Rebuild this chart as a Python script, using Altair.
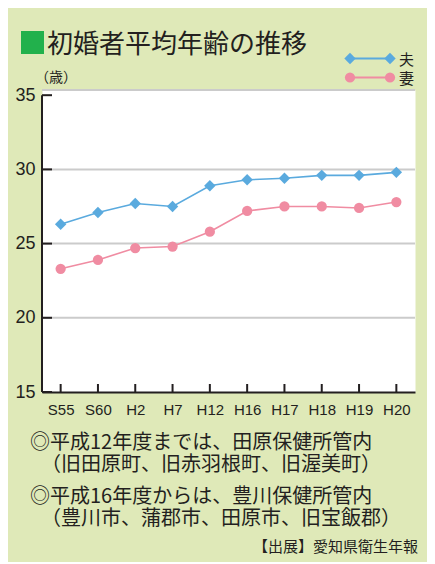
import altair as alt
import pandas as pd

# ---- data ----
years = ["S55", "S60", "H2", "H7", "H12", "H16", "H17", "H18", "H19", "H20"]
husband = [26.3, 27.1, 27.7, 27.5, 28.9, 29.3, 29.4, 29.6, 29.6, 29.8]
wife = [23.3, 23.9, 24.7, 24.8, 25.8, 27.2, 27.5, 27.5, 27.4, 27.8]
series_names = ["夫", "妻"]
y_ticks = [15, 20, 25, 30, 35]
grid_values = [20, 25, 30]
title_text = "初婚者平均年齢の推移"
unit_text = "（歳）"
notes = [
    "◎平成12年度までは、田原保健所管内",
    "（旧田原町、旧赤羽根町、旧渥美町）",
    "◎平成16年度からは、豊川保健所管内",
    "（豊川市、蒲郡市、田原市、旧宝飯郡）",
]
source_text = "【出展】愛知県衛生年報"

# ---- styling ----
W, H = 373, 302
BLUE = "#5aaade"
PINK = "#f08ca2"
INK = "#231f20"
GRID = "#cbcbcb"
BG = "#dfe9b8"
GREEN = "#22b14c"
JP = "Noto Sans CJK JP"
LAT = "Liberation Sans"

df = pd.DataFrame({
    "year": years * 2,
    "series": [series_names[0]] * len(years) + [series_names[1]] * len(years),
    "value": husband + wife,
})
one = pd.DataFrame({"k": [0]})

xscale = alt.Scale(type="point", padding=0.5)
yscale = alt.Scale(domain=[15, 35.35], nice=False, zero=False)
color = alt.Color("series:N", scale=alt.Scale(domain=series_names, range=[BLUE, PINK]), legend=None)

x_axis = alt.Axis(title=None, labelAngle=0, ticks=False, tickSize=0, grid=False,
                  domainColor=INK, domainWidth=2, labelFont=LAT, labelFontSize=15,
                  labelColor=INK, labelPadding=10)
y_axis = alt.Axis(title=None, values=y_ticks, ticks=False, tickSize=0, grid=False,
                  domain=False, labelFont=LAT, labelFontSize=18, labelColor=INK,
                  labelPadding=7)


def X(field):
    return alt.X(field, sort=years, scale=xscale, axis=x_axis)


def Y(field):
    return alt.Y(field, scale=yscale, axis=y_axis)


top_line = alt.Chart(one).mark_rule(color=GRID, strokeWidth=2).encode(
    x=alt.value(0), x2=alt.value(W), y=alt.value(0))

grid = alt.Chart(pd.DataFrame({"value": grid_values})).mark_rule(color=GRID, strokeWidth=2).encode(
    y=Y("value:Q"), x=alt.value(0), x2=alt.value(W))

y_line = alt.Chart(pd.DataFrame({"value": [max(y_ticks)], "lo": [min(y_ticks)]})).mark_rule(
    color=INK, strokeWidth=2).encode(
    y=Y("value:Q"), y2="lo:Q", x=alt.value(0))

y_tick_marks = alt.Chart(pd.DataFrame({"value": y_ticks})).mark_rule(color=INK, strokeWidth=2).encode(
    y=Y("value:Q"), x=alt.value(0), x2=alt.value(10))

x_tick_marks = alt.Chart(pd.DataFrame({"year": years})).mark_rule(color=INK, strokeWidth=2).encode(
    x=X("year:N"), y=alt.value(H - 8), y2=alt.value(H))

base = alt.Chart(df).encode(x=X("year:N"), y=Y("value:Q"), color=color)
lines = base.mark_line(strokeWidth=1.6)
pts_h = base.transform_filter(alt.datum.series == series_names[0]).mark_point(
    shape="diamond", filled=True, size=130, opacity=1)
pts_w = base.transform_filter(alt.datum.series == series_names[1]).mark_point(
    shape="circle", filled=True, size=105, opacity=1)


def text(t, x, y, size, align="left", font=JP, col=INK):
    return alt.Chart(one).mark_text(text=t, font=font, fontSize=size, color=col,
                                    align=align, baseline="middle").encode(
        x=alt.value(x), y=alt.value(y))


deco = [
    alt.Chart(one).mark_rect(color=GREEN).encode(
        x=alt.value(-21), x2=alt.value(2), y=alt.value(-59), y2=alt.value(-36)),
    text(title_text, 5, -45, 26),
    text(unit_text, -7, -12, 14),
]

legend_layers = []
for name, col, shape, size, ly in [(series_names[0], BLUE, "diamond", 130, -31.5),
                                   (series_names[1], PINK, "circle", 105, -12.5)]:
    legend_layers.append(alt.Chart(one).mark_rule(color=col, strokeWidth=2).encode(
        x=alt.value(308), x2=alt.value(348), y=alt.value(ly)))
    for lx in (308, 348):
        legend_layers.append(alt.Chart(one).mark_point(
            shape=shape, filled=True, size=size, color=col, opacity=1).encode(
            x=alt.value(lx), y=alt.value(ly)))
    legend_layers.append(text(name, 357, ly + 1, 15))

note_layers = []
note_pos = [(-12, 353), (-1, 375), (-12, 406.5), (-1, 428.5)]
for t, (nx, ny) in zip(notes, note_pos):
    note_layers.append(text(t, nx, ny, 20))
note_layers.append(text(source_text, 376, 457, 15, align="right"))

chart = alt.layer(
    top_line, grid, y_line, y_tick_marks, x_tick_marks, lines, pts_h, pts_w,
    *deco, *legend_layers, *note_layers,
).properties(
    width=W, height=H,
    autosize=alt.AutoSizeParams(type="none"),
    padding={"left": 34, "top": 82, "right": 12, "bottom": 170},
    background=BG,
).configure_view(fill="white", stroke="transparent")

chart.save("out.html", embed_options={"renderer": "svg", "actions": False})
